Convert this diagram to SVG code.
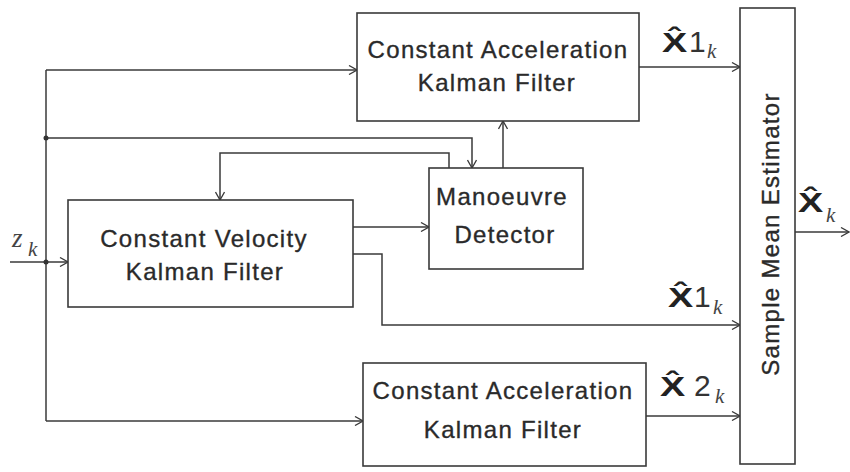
<svg xmlns="http://www.w3.org/2000/svg" width="850" height="472" viewBox="0 0 850 472">
<defs>
<marker id="arr" markerWidth="10" markerHeight="10" refX="9" refY="5" orient="auto" markerUnits="userSpaceOnUse">
<path d="M1,0.5 L9,5 L1,9.5" fill="none" stroke="#3a3a3a" stroke-width="1.3"/>
</marker>
<style>
.box{fill:#fff;stroke:#3a3a3a;stroke-width:1.6}
.ln{fill:none;stroke:#3a3a3a;stroke-width:1.5}
.t{font-family:"Liberation Sans",Arial,sans-serif;font-size:24px;fill:#2a2a2a;stroke:#2a2a2a;stroke-width:0.35px;letter-spacing:1.3px;text-anchor:middle}
.X{font-family:"Liberation Sans",Arial,sans-serif;font-size:28px;font-weight:bold;fill:#222}
.num{font-family:"Liberation Sans",Arial,sans-serif;font-size:30px;fill:#333}
.sub{font-family:"Liberation Serif","Times New Roman",serif;font-style:italic;font-size:21px;fill:#444}
.z{font-family:"Liberation Serif","Times New Roman",serif;font-style:italic;font-size:27px;fill:#444}
</style>
</defs>
<rect width="850" height="472" fill="#fff"/>
<g id="connectors">
<polyline class="ln" points="46,70 46,421"/>
<line class="ln" x1="46" y1="70" x2="357" y2="70" marker-end="url(#arr)"/>
<polyline class="ln" points="46,138 472,138 472,168" marker-end="url(#arr)"/>
<polyline class="ln" points="449,168 449,153 220,153 220,200" marker-end="url(#arr)"/>
<line class="ln" x1="503" y1="168" x2="503" y2="121" marker-end="url(#arr)"/>
<line class="ln" x1="353" y1="227" x2="429" y2="227" marker-end="url(#arr)"/>
<polyline class="ln" points="353,254 382,254 382,325 740,325" marker-end="url(#arr)"/>
<line class="ln" x1="10" y1="262" x2="68" y2="262" marker-end="url(#arr)"/>
<polyline class="ln" points="46,421 363,421" marker-end="url(#arr)"/>
<line class="ln" x1="639" y1="67" x2="740" y2="67" marker-end="url(#arr)"/>
<line class="ln" x1="646" y1="416" x2="740" y2="416" marker-end="url(#arr)"/>
<line class="ln" x1="795" y1="232" x2="849" y2="232" marker-end="url(#arr)"/>
<circle cx="46" cy="138" r="2.5" fill="#333"/>
<circle cx="46" cy="262" r="2.5" fill="#333"/>
</g>
<g id="ca-top">
<rect class="box" x="357" y="13" width="282" height="108"/>
<text class="t" x="498" y="58">Constant Acceleration</text>
<text class="t" x="497" y="91">Kalman Filter</text>
</g>
<g id="detector">
<rect class="box" x="429" y="168" width="154" height="101"/>
<text class="t" x="502" y="205">Manoeuvre</text>
<text class="t" x="505" y="243">Detector</text>
</g>
<g id="cv">
<rect class="box" x="68" y="200" width="285" height="107"/>
<text class="t" x="204" y="247">Constant Velocity</text>
<text class="t" x="205" y="280">Kalman Filter</text>
</g>
<g id="ca-bottom">
<rect class="box" x="363" y="363" width="283" height="103"/>
<text class="t" x="503" y="399">Constant Acceleration</text>
<text class="t" x="503" y="438">Kalman Filter</text>
</g>
<g id="sme">
<rect class="box" x="740" y="8" width="55" height="456"/>
<text class="t" transform="translate(779,234) rotate(-90)" x="0" y="0">Sample Mean Estimator</text>
</g>
<g id="labels">
<text class="X" transform="translate(662,52) scale(1.35,1)">X̂</text>
<text class="num" x="689" y="52">1</text>
<text class="sub" x="707" y="58">k</text>

<text class="X" transform="translate(668,307) scale(1.35,1)">X̂</text>
<text class="num" x="694" y="307">1</text>
<text class="sub" x="713" y="314">k</text>

<text class="X" transform="translate(660,396) scale(1.35,1)">X̂</text>
<text class="num" x="694" y="396">2</text>
<text class="sub" x="715" y="403">k</text>

<text class="X" transform="translate(798,212) scale(1.35,1)">X̂</text>
<text class="sub" x="826" y="222">k</text>

<text class="z" x="12" y="247">z</text>
<text class="sub" x="28" y="256">k</text>
</g>
</svg>
